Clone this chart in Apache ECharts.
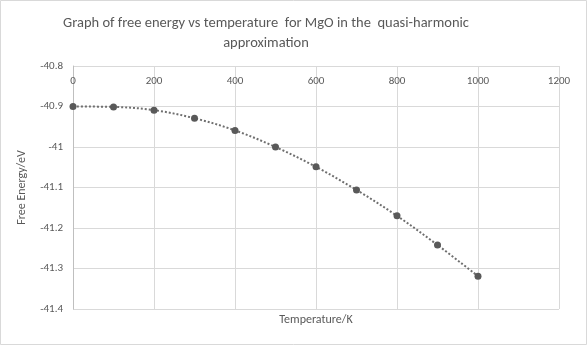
<!DOCTYPE html>
<html>
<head>
<meta charset="utf-8">
<script src="https://cdn.jsdelivr.net/npm/echarts@6/dist/echarts.min.js"></script>
<style>
  html, body { margin: 0; padding: 0; background: #fff; }
  #chart { width: 587px; height: 345px; }
</style>
</head>
<body>
<div id="chart"></div>
<script>
// Temperature (K) and free energy (eV) of MgO, quasi-harmonic approximation
var temperatures = [0, 100, 200, 300, 400, 500, 600, 700, 800, 900, 1000];
var freeEnergies = [-40.900, -40.901, -40.909, -40.929, -40.959, -41.000, -41.049, -41.106, -41.170, -41.242, -41.319];

var titleLines = ['Graph of free energy vs temperature  for MgO in the  quasi-harmonic', 'approximation'];
var xTitle = 'Temperature/K';
var yTitle = 'Free Energy/eV';

var textColor = '#595959';
var gridColor = '#d9d9d9';
var fontFamily = 'Carlito, "Open Sans", "Liberation Sans", sans-serif';

var points = temperatures.map(function (t, i) { return [t, freeEnergies[i]]; });

var chart = echarts.init(document.getElementById('chart'), null, { renderer: 'canvas' });
chart.setOption({
  animation: false,
  backgroundColor: '#ffffff',
  textStyle: { fontFamily: fontFamily },
  grid: { left: 73, right: 28, top: 66, bottom: 36 },
  title: {
    text: titleLines.join('\n'),
    left: 261,
    top: 8,
    textAlign: 'center',
    textStyle: { color: textColor, fontSize: 14.5, fontWeight: 'normal', lineHeight: 20, fontFamily: fontFamily }
  },
  xAxis: {
    type: 'value',
    position: 'top',
    min: 0,
    max: 1200,
    interval: 200,
    axisLine: { show: false },
    axisTick: { show: false },
    axisLabel: {
      inside: true, margin: 10, color: textColor, fontSize: 11, fontFamily: fontFamily,
      formatter: function (v) { return String(v); }
    },
    splitLine: { show: true, lineStyle: { color: gridColor, width: 1 } }
  },
  yAxis: {
    type: 'value',
    min: -41.4,
    max: -40.8,
    interval: 0.1,
    name: yTitle,
    nameLocation: 'middle',
    nameGap: 45,
    nameTextStyle: { color: textColor, fontSize: 12, fontFamily: fontFamily },
    axisLine: { show: true, onZero: false, lineStyle: { color: '#bfbfbf' } },
    axisTick: { show: false },
    axisLabel: {
      color: textColor, fontSize: 11, margin: 10, fontFamily: fontFamily,
      formatter: function (v) { return String(Math.round(v * 10) / 10); }
    },
    splitLine: { show: true, lineStyle: { color: gridColor, width: 1 } }
  },
  series: [{
    type: 'line',
    data: points,
    smooth: 0.35,
    symbol: 'circle',
    symbolSize: 7,
    itemStyle: { color: '#595959' },
    lineStyle: { color: '#6f6f6f', width: 2, type: [2, 2] },
    z: 3
  }],
  graphic: [
    {
      type: 'rect',
      shape: { x: 0.5, y: 0.5, width: 586, height: 344 },
      style: { fill: 'none', stroke: gridColor, lineWidth: 1 },
      silent: true
    },
    {
      type: 'text',
      x: 316,
      y: 320,
      style: {
        text: xTitle, fill: textColor, font: '12px ' + fontFamily,
        align: 'center', verticalAlign: 'middle'
      }
    }
  ]
});
</script>
</body>
</html>
